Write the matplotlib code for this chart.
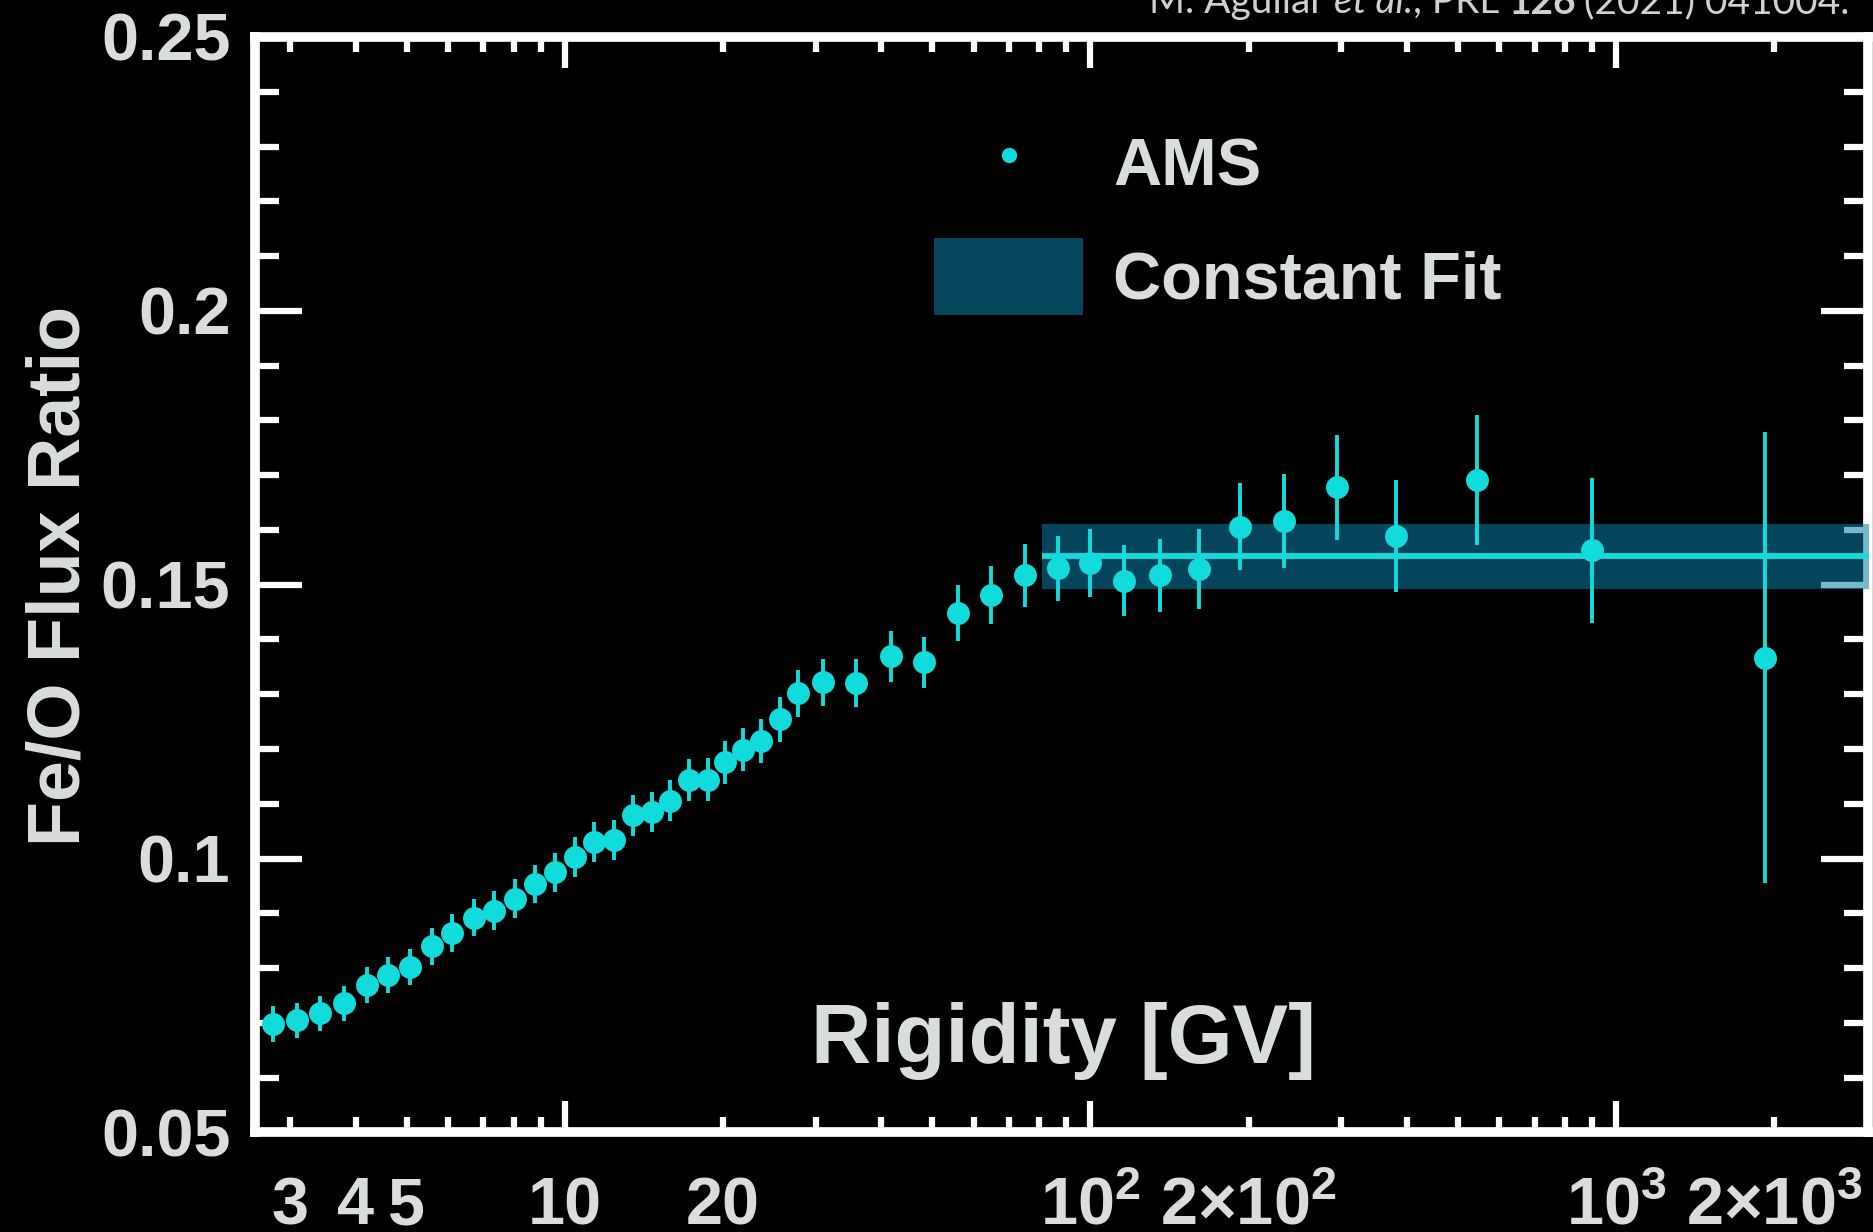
import matplotlib
matplotlib.use('Agg')
import matplotlib.pyplot as plt
from matplotlib.lines import Line2D
from matplotlib.patches import Patch
from matplotlib.ticker import FixedLocator, FuncFormatter, MultipleLocator

# Fe/O flux ratio vs rigidity (AMS)
rigidity = [2.79, 3.10, 3.42, 3.80, 4.20, 4.61, 5.07, 5.60, 6.11, 6.72,
            7.35, 8.03, 8.77, 9.59, 10.48, 11.39, 12.40, 13.48, 14.66, 15.85,
            17.23, 18.74, 20.17, 21.82, 23.60, 25.66, 27.75, 30.97, 35.86, 41.7,
            48.3, 55.9, 64.7, 75.0, 86.8, 100.0, 115.8, 135.5, 161.0, 193.0,
            234.0, 294.0, 382.0, 545.0, 901.0, 1923.0]
fe_o_ratio = [0.0698, 0.0705, 0.0718, 0.0736, 0.0769, 0.0787, 0.0802, 0.0840, 0.0864, 0.0892,
              0.0905, 0.0927, 0.0953, 0.0975, 0.1003, 0.1030, 0.1034, 0.1079, 0.1085, 0.1106,
              0.1144, 0.1144, 0.1176, 0.1199, 0.1214, 0.1254, 0.1302, 0.1322, 0.1320, 0.1369,
              0.1358, 0.1449, 0.1482, 0.1517, 0.1530, 0.1539, 0.1507, 0.1517, 0.1529, 0.1606,
              0.1616, 0.1678, 0.1589, 0.1691, 0.1563, 0.1367]
fe_o_error = [0.0032, 0.0032, 0.0032, 0.0032, 0.0033, 0.0033, 0.0033, 0.0034, 0.0034, 0.0034,
              0.0035, 0.0035, 0.0035, 0.0036, 0.0036, 0.0036, 0.0037, 0.0037, 0.0037, 0.0038,
              0.0038, 0.0039, 0.0039, 0.0040, 0.0040, 0.0041, 0.0043, 0.0043, 0.0044, 0.0046,
              0.0046, 0.0051, 0.0053, 0.0057, 0.0059, 0.0062, 0.0065, 0.0067, 0.0073, 0.0080,
              0.0086, 0.0096, 0.0102, 0.0118, 0.0132, 0.0411]

# constant fit above ~80 GV
fit_value = 0.1552
fit_error = 0.0059
fit_range = [81.0, 3100.0]

x_tick_labels = {3: '3', 4: '4', 5: '5', 10: '10', 20: '20',
                 100: r'$10^{2}$', 200: r'$2{\times}10^{2}$',
                 1000: r'$10^{3}$', 2000: r'$2{\times}10^{3}$'}
y_ticks = [0.05, 0.1, 0.15, 0.2, 0.25]

cyan = '#12dcdb'
band_color = '#097fa7'
band_solid = '#05465c'
text_color = '#d9dddc'

plt.rcParams['font.family'] = 'Liberation Sans'
plt.rcParams['font.weight'] = 'bold'
plt.rcParams['axes.labelweight'] = 'bold'
plt.rcParams['mathtext.fontset'] = 'custom'
plt.rcParams['mathtext.rm'] = 'Liberation Sans:bold'
plt.rcParams['mathtext.bf'] = 'Liberation Sans:bold'
plt.rcParams['mathtext.it'] = 'Liberation Sans:bold'

fig = plt.figure(figsize=(18.73, 12.32), dpi=100, facecolor='black')
ax = fig.add_axes([0.1364, 0.0808, 0.8609, 0.8892])
ax.set_facecolor('black')
ax.set_xscale('log')
ax.set_xlim(2.58, 3015)
ax.set_ylim(0.05, 0.25)

ax.fill_between(fit_range, fit_value - fit_error, fit_value + fit_error,
                color=band_color, alpha=0.55, lw=0, zorder=3)
ax.plot(fit_range, [fit_value, fit_value], color=cyan, lw=4.2,
        solid_capstyle='butt', zorder=3.5)
ax.errorbar(rigidity, fe_o_ratio, yerr=fe_o_error, fmt='o', color=cyan,
            ms=16.5, mew=0, elinewidth=2.8, capsize=0, zorder=4)

for s in ax.spines.values():
    s.set_color('white')
    s.set_linewidth(7)

# ticks
minor_x = [m * 10 ** e for e in range(4) for m in range(2, 10)]
minor_x = [v for v in minor_x if 2.58 < v <= 2000]
ax.xaxis.set_major_locator(FixedLocator([10, 100, 1000]))
ax.xaxis.set_minor_locator(FixedLocator(minor_x))
xfmt = FuncFormatter(lambda v, pos: x_tick_labels.get(int(round(v)), ''))
ax.xaxis.set_major_formatter(xfmt)
ax.xaxis.set_minor_formatter(xfmt)
ax.yaxis.set_major_locator(FixedLocator(y_ticks))
ax.yaxis.set_major_formatter(FuncFormatter(lambda v, pos: '%g' % v))
ax.yaxis.set_minor_locator(MultipleLocator(0.01))

ax.tick_params(axis='x', which='major', direction='in', length=22, width=4.5,
               top=True, color='white', pad=66, labelsize=48, labelcolor=text_color)
ax.tick_params(axis='x', which='minor', direction='in', length=10.5, width=4.5,
               top=True, color='white', pad=66, labelsize=48, labelcolor=text_color)
ax.tick_params(axis='y', which='major', direction='in', length=34, width=4.5,
               right=True, color='white', pad=18, labelsize=48, labelcolor=text_color)
ax.tick_params(axis='y', which='minor', direction='in', length=17.5, width=4.5,
               right=True, color='white')
for t in ax.get_xticklabels(which='both'):
    t.set_va('baseline')

ax.set_ylabel('Fe/O Flux Ratio', fontsize=53, color=text_color)
ax.yaxis.set_label_coords(-0.0996, 0.508)
ax.set_xlabel('Rigidity [GV]', fontsize=60, color=text_color)
ax.xaxis.set_label_coords(0.501, 0.0634)
ax.xaxis.label.set_va('baseline')

handles = [Line2D([], [], marker='o', ls='none', color=cyan, ms=11, mew=0),
           Patch(facecolor=band_solid, edgecolor='none')]
ax.legend(handles, ['AMS', 'Constant Fit'], loc='upper left',
          bbox_to_anchor=(0.421, 0.9195), frameon=False, fontsize=48,
          labelcolor=text_color, handlelength=2.23, handleheight=1.39,
          handletextpad=0.45, labelspacing=0.55, borderpad=0, borderaxespad=0)

# reference line at the top
cite_size = 28
cite_kw = dict(fontsize=cite_size, family='Lato', color='#d0d0d0', va='bottom')
gap = 0.23 * cite_size
prev = fig.text(0.6135, 0.9838, 'M. Aguilar', weight='normal', **cite_kw)
for piece, style, weight, space in [('et al.', 'italic', 'normal', True),
                                    (', PRL', 'normal', 'normal', False),
                                    ('126', 'normal', 'bold', True),
                                    ('(2021) 041004.', 'normal', 'normal', True)]:
    prev = ax.annotate(piece, xy=(1, 0), xycoords=prev,
                       xytext=(gap if space else 0, 0), textcoords='offset points',
                       style=style, weight=weight, annotation_clip=False, **cite_kw)

fig.savefig('out.png', dpi=100, facecolor='black')
